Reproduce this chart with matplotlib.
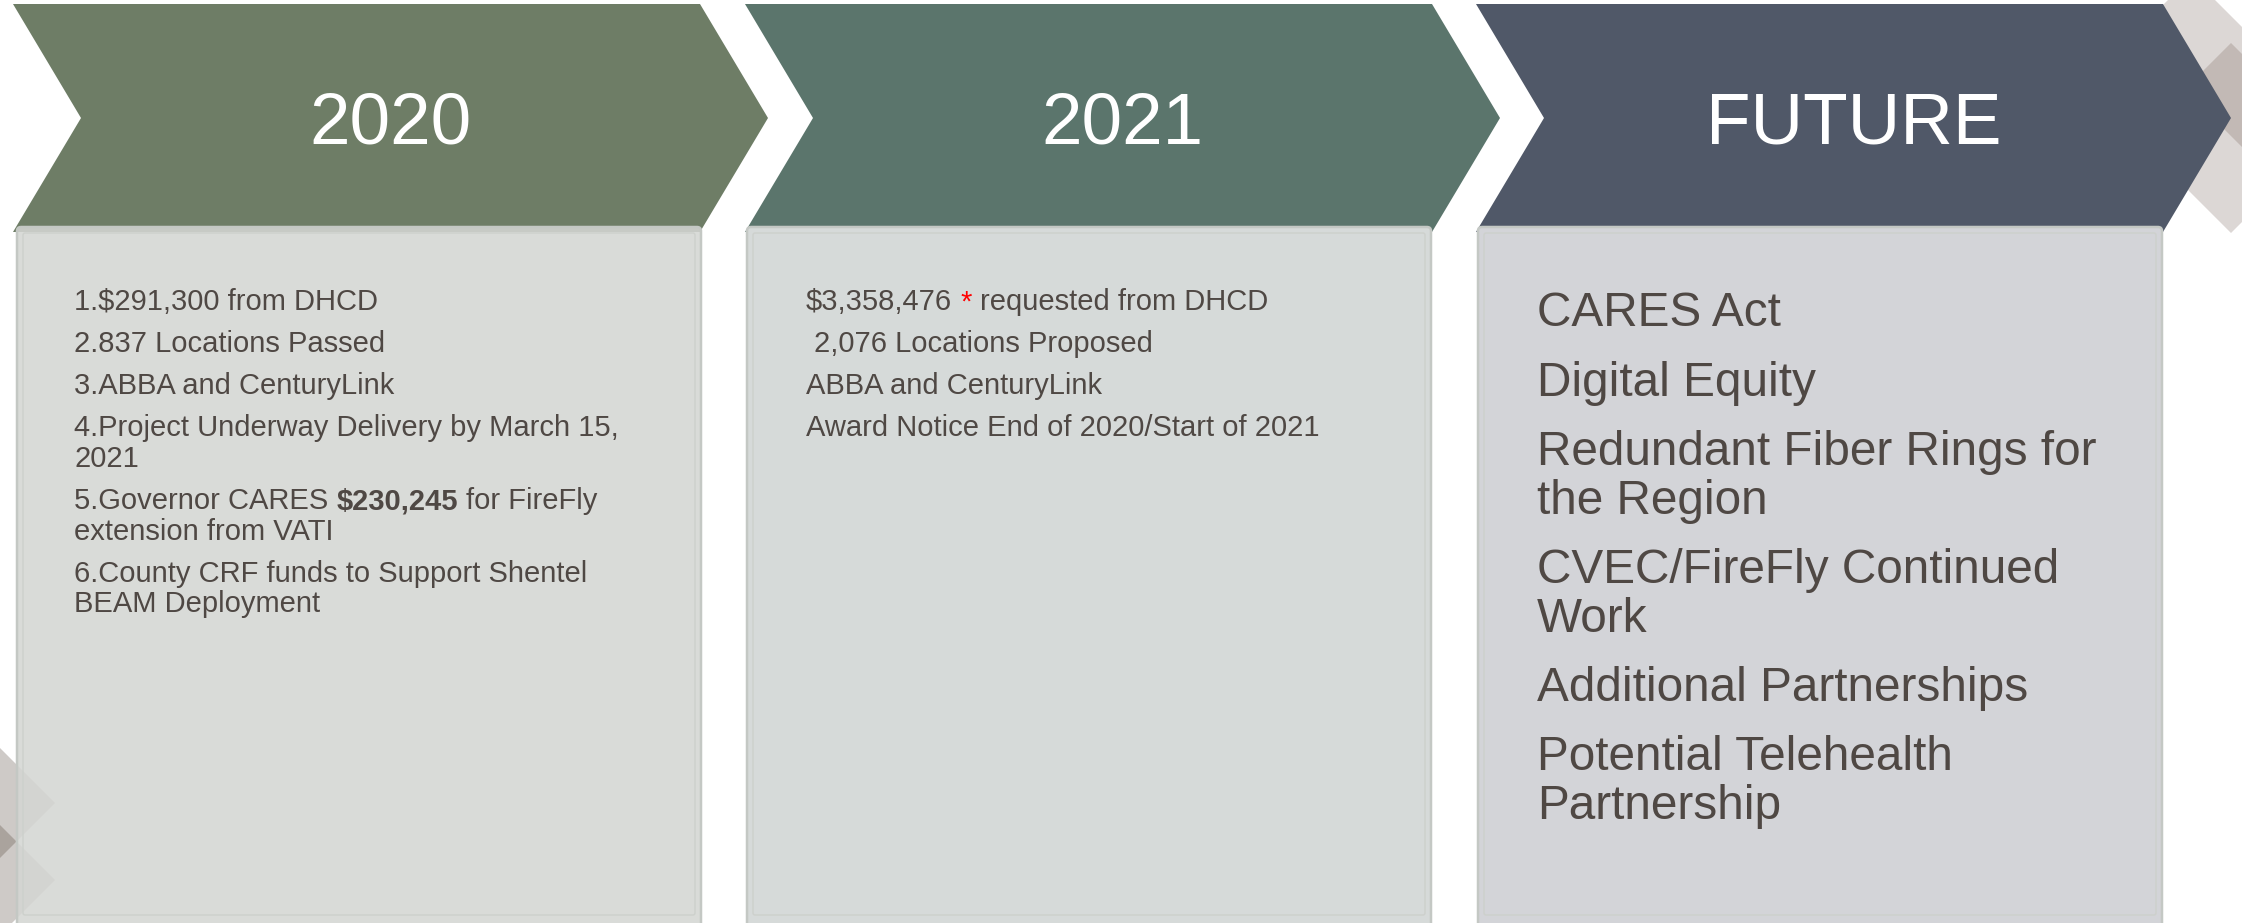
import re
import matplotlib
matplotlib.use("Agg")
import matplotlib.pyplot as plt
from matplotlib.patches import Polygon, FancyBboxPatch

plt.rcParams['font.family'] = ['Liberation Sans', 'DejaVu Sans']

# Stage headers and colours
headers = ['2020', '2021', 'FUTURE']
header_colors = ['#6E7D66', '#5B756C', '#505868']
box_colors = ['#D9DBD8', '#D6DAD9', '#D3D4D8']
text_color = '#4F4844'

# Column contents: one list per item, one string per wrapped line
# **...** = bold segment, [*] = red asterisk
col_2020 = [
    ["1.$291,300 from DHCD"],
    ["2.837 Locations Passed"],
    ["3.ABBA and CenturyLink"],
    ["4.Project Underway Delivery by March 15,", "2021"],
    ["5.Governor CARES **$230,245** for FireFly", "extension from VATI"],
    ["6.County CRF funds to Support Shentel", "BEAM Deployment"],
]
col_2021 = [
    ["$3,358,476 [*] requested from DHCD"],
    [" 2,076 Locations Proposed"],
    ["ABBA and CenturyLink"],
    ["Award Notice End of 2020/Start of 2021"],
]
col_future = [
    ["CARES Act"],
    ["Digital Equity"],
    ["Redundant Fiber Rings for", "the Region"],
    ["CVEC/FireFly Continued", "Work"],
    ["Additional Partnerships"],
    ["Potential Telehealth", "Partnership"],
]

W, H = 2242, 923
fig = plt.figure(figsize=(W / 100, H / 100), dpi=100)
ax = fig.add_axes([0, 0, 1, 1])
ax.set_xlim(0, W)
ax.set_ylim(H, 0)
ax.axis('off')

# decorative diamonds, top right (behind the last chevron)
ax.add_patch(Polygon([(2191.5, -23.5), (2339.5, 124.5), (2231, 233), (2083, 85)],
                     closed=True, fc='#DCD7D5', ec='none', zorder=1))
ax.add_patch(Polygon([(2184.5, 89.5), (2231, 43), (2331, 143), (2284.5, 189.5)],
                     closed=True, fc='#C2B9B5', ec='none', zorder=1))
# decorative diamonds, bottom left
for cy in [803, 880]:
    ax.add_patch(Polygon([(0, cy - 55), (55, cy), (0, cy + 55), (-55, cy)],
                         closed=True, fc='#3F2F23', alpha=0.25, ec='none', zorder=1))

# chevrons
x0s = [13, 745, 1476]
body_w, depth = 687, 68
top, mid, bot = 4, 118, 232
for i, x0 in enumerate(x0s):
    pts = [(x0, top), (x0 + body_w, top), (x0 + body_w + depth, mid),
           (x0 + body_w, bot), (x0, bot), (x0 + depth, mid)]
    ax.add_patch(Polygon(pts, closed=True, fc=header_colors[i], ec='none', zorder=2))
    ax.text(x0 + (depth + body_w) / 2, mid + 26, headers[i], color='white',
            fontsize=52.5, ha='center', va='baseline', zorder=5)

# boxes below the chevrons
box_x = [17, 747, 1478]
box_w = 684
for i, bx in enumerate(box_x):
    a = 0.88 if i == 0 else 1.0
    rgb = matplotlib.colors.to_rgb(box_colors[i])
    fc = tuple((c - (1 - a)) / a for c in rgb)
    ax.add_patch(FancyBboxPatch((bx, 227), box_w, 720, boxstyle='round,pad=0,rounding_size=4',
                                fc=fc, alpha=a, ec='none', zorder=3))
    ax.add_patch(FancyBboxPatch((bx, 227), box_w, 720, boxstyle='round,pad=0,rounding_size=4',
                                fc='none', ec='#C4C8C4', lw=1.8, zorder=3.5))
    ax.add_patch(FancyBboxPatch((bx + 6, 233), box_w - 12, 682, boxstyle='round,pad=0,rounding_size=2',
                                fc='none', ec='#CDD0CC', lw=1.0, zorder=3.5))


def rich_line(x, y, line, size):
    em_px = size / 0.72
    sp_pt = 0.278 * size
    parts = [p for p in re.split(r'(\*\*.*?\*\*|\[\*\])', line) if p]
    prev = None
    pending = 0
    for p in parts:
        weight, color = 'normal', text_color
        if p.startswith('**'):
            p, weight = p[2:-2], 'bold'
        elif p == '[*]':
            p, color = '*', 'red'
        lead = len(p) - len(p.lstrip(' '))
        trail = len(p) - len(p.rstrip(' '))
        p = p.strip(' ')
        if prev is None:
            prev = ax.text(x + lead * 0.278 * em_px, y, p, fontsize=size, color=color,
                           fontweight=weight, ha='left', va='baseline', zorder=6)
        else:
            prev = ax.annotate(p, xy=(1, 0), xycoords=prev,
                               xytext=((pending + lead) * sp_pt, 0), textcoords='offset points',
                               fontsize=size, color=color, fontweight=weight,
                               ha='left', va='bottom', zorder=6)
        pending = trail


def column(x, y_first, items, size, line_gap, para_gap, cap):
    y = y_first
    for item in items:
        for j, line in enumerate(item):
            rich_line(x, y + cap, line, size)
            y += line_gap if j < len(item) - 1 else para_gap


column(74, 300, col_2020, 21, 30.5, 42, 10.5)
column(806, 300, col_2021, 21, 30.5, 41.7, 10.5)
column(1537, 309, col_future, 34.4, 48.5, 69.5, 17)

fig.savefig('out.png', dpi=100)
